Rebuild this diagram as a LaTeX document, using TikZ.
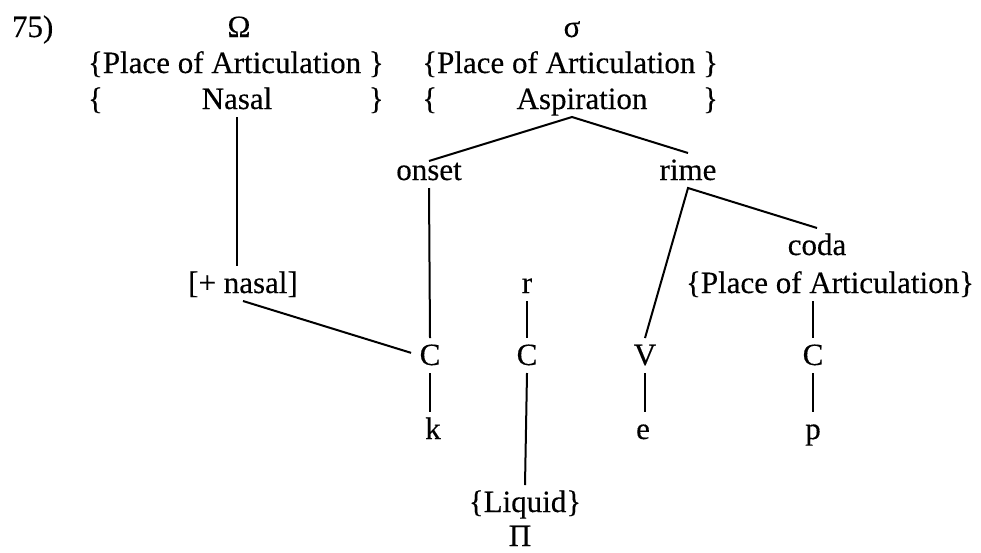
\documentclass[tikz,border=0pt]{standalone}
\usepackage{fontspec}
\setmainfont{Liberation Serif}
\newfontfamily\treefont{Liberation Serif}[FakeBold=0.3]
\begin{document}
\begin{tikzpicture}[x=1pt,y=-1pt,
  lbl/.style={inner sep=0pt, outer sep=0pt, text height=27pt, text depth=8pt,
              font=\treefont\fontsize{31}{36}\selectfont},
  edge/.style={line width=2pt}]
\useasboundingbox (0,0) rectangle (981,552);

% header: example number, roots and their feature sets
\node[lbl,anchor=base west] (num)   at (12,37)  {75)};
\node[lbl,anchor=base]      (omega) at (239,37) {Ω};
\node[lbl,anchor=base]      (sigma) at (572,37) {σ};
\node[lbl,anchor=base west] (lpoa)  at (88,73)  {\{Place of Articulation \}};
\node[lbl,anchor=base east] (rpoa)  at (718,73) {\{Place of Articulation \}};
\node[lbl,anchor=base west] (lopen)  at ([yshift=-36pt]lpoa.base west) {\{};
\node[lbl,anchor=base]      (nasal)  at (237,109) {Nasal};
\node[lbl,anchor=base east] (lclose) at ([yshift=-36pt]lpoa.base east) {\}};
\node[lbl,anchor=base west] (ropen)  at ([yshift=-36pt]rpoa.base west) {\{};
\node[lbl,anchor=base]      (asp)    at (582,109) {Aspiration};
\node[lbl,anchor=base east] (rclose) at ([yshift=-36pt]rpoa.base east) {\}};

% syllable structure
\node[lbl,anchor=base] (onset) at (429,180) {onset};
\node[lbl,anchor=base] (rime)  at (688,180) {rime};
\node[lbl,anchor=base] (coda)  at (817,255) {coda};
\node[lbl,anchor=base] (cpoa)  at (830,293) {\{Place of Articulation\}};
\node[lbl,anchor=base] (plusnasal) at (243,293) {[+ nasal]};
\node[lbl,anchor=base] (r)     at (527,293) {r};

% skeleton and segments
\node[lbl,anchor=base] (c1) at (430,365) {C};
\node[lbl,anchor=base] (c2) at (527,365) {C};
\node[lbl,anchor=base] (v)  at (645,365) {V};
\node[lbl,anchor=base] (c3) at (813,365) {C};
\node[lbl,anchor=base] (k)  at (433,439) {k};
\node[lbl,anchor=base] (e)  at (643,439) {e};
\node[lbl,anchor=base] (p)  at (813,439) {p};
\node[lbl,anchor=base] (liquid) at (525,512) {\{Liquid\}};
\node[lbl,anchor=base,text depth=0pt] (pi) at (520,546) {Π};

% association lines
\coordinate (apex) at (sigma |- asp.south);
\draw[edge] ([yshift=-8pt]onset.north) -- (apex) -- (rime.north);
\draw[edge] (nasal.south) -- (nasal |- plusnasal.north);
\draw[edge, shorten >=9pt] (plusnasal.south) -- (c1.west);
\draw[edge] (onset.south) -- (c1.north);
\draw[edge] (r.south) -- (c2.north);
\draw[edge] (c2.south) -- (liquid.north);
\draw[edge] (c1.south) -- (c1 |- k.north);
\draw[edge] (v.north) -- (rime.south) -- (coda.north);
\draw[edge] (c3 |- cpoa.south) -- (c3.north);
\draw[edge] (v.south) -- (v |- e.north);
\draw[edge] (c3.south) -- (c3 |- p.north);
\end{tikzpicture}
\end{document}
